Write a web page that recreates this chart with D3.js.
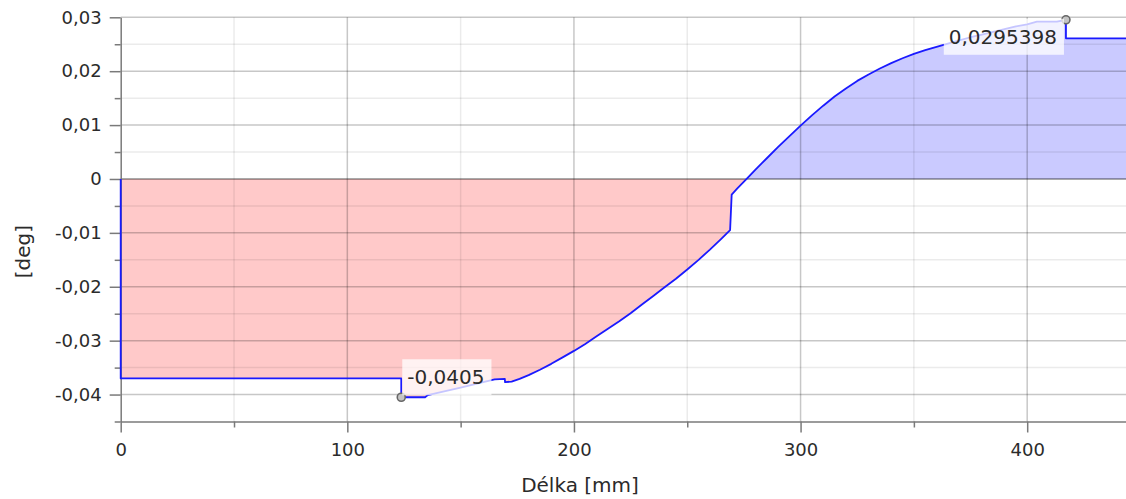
<!DOCTYPE html>
<html>
<head>
<meta charset="utf-8">
<script src="https://cdn.jsdelivr.net/npm/d3@7"></script>
<style>
  body { margin: 0; background: #fff; }
  svg { display: block; }
  text { font-family: "DejaVu Sans", sans-serif; fill: #2b2b2b; }
</style>
</head>
<body>
<svg id="chart" width="1126" height="499"></svg>
<script>
// Rotation along the member length
const lengthMm = [0, 0, 123.8, 123.8, 134.3, 135.5, 150, 165.0, 169.5, 169.6, 172.5, 176,
  180, 185, 190, 195, 200, 205, 210, 215, 220, 225, 230, 235, 240, 245, 250, 255, 260, 265,
  268.9, 269.6, 272, 276.2, 280, 285, 290, 295, 300, 305, 310, 315, 320, 325, 330, 335, 340,
  345, 350, 355, 360, 365, 370, 375, 380, 385, 390, 395, 400, 404.3, 413.1, 417.1, 417.1, 443.6];
const rotationDeg = [0, -0.0370, -0.0370, -0.0405, -0.0405, -0.0401, -0.0387, -0.0372, -0.0371,
  -0.0377, -0.0376, -0.0371, -0.0364, -0.0354, -0.0343, -0.0331, -0.0319, -0.0306, -0.0292,
  -0.0278, -0.0264, -0.0249, -0.0233, -0.0217, -0.0201, -0.0185, -0.0168, -0.0150, -0.0131,
  -0.0111, -0.0095, -0.0029, -0.0018, 0.0000, 0.0017, 0.0038, 0.0059, 0.0079, 0.0099, 0.0118,
  0.0136, 0.0153, 0.0168, 0.0182, 0.0194, 0.0205, 0.0215, 0.0224, 0.0232, 0.0239, 0.0245,
  0.0251, 0.0257, 0.0263, 0.0268, 0.0273, 0.0278, 0.0283, 0.0287, 0.0292, 0.0292, 0.0295398,
  0.0261, 0.0261];

// Extreme values marked on the curve
const extremeMm = [123.8, 417.1];
const extremeDeg = [-0.0405, 0.0295398];
const extremeLabels = ["-0,0405", "0,0295398"];

// Axis ticks
const xMajorTicks = [0, 100, 200, 300, 400];
const xMinorTicks = [50, 150, 250, 350];
const yMajorTicks = [0.03, 0.02, 0.01, 0, -0.01, -0.02, -0.03, -0.04];
const yMinorTicks = [0.025, 0.015, 0.005, -0.005, -0.015, -0.025, -0.035, -0.045];

const xTitle = "Délka [mm]";
const yTitle = "[deg]";

const svg = d3.select("#chart");
const plotL = 120.7, plotR = 1126, plotT = 17.3, plotB = 421.5;

const x = d3.scaleLinear().domain([0, 443.6]).range([plotL, plotR]);
const y = d3.scaleLinear().domain([-0.045, 0.03]).range([plotB, plotT]);

const locale = d3.formatLocale({ decimal: ",", thousands: " ", grouping: [3], currency: ["", ""], minus: "-" });
const fmt2 = locale.format(".2f");
const yFmt = d => (d === 0 ? "0" : fmt2(d));

const pts = lengthMm.map((v, i) => [v, rotationDeg[i]]);

// Clip regions above and below zero
const defs = svg.append("defs");
defs.append("clipPath").attr("id", "neg").append("rect")
  .attr("x", plotL).attr("y", y(0)).attr("width", plotR - plotL).attr("height", plotB - y(0));
defs.append("clipPath").attr("id", "pos").append("rect")
  .attr("x", plotL).attr("y", plotT - 10).attr("width", plotR - plotL).attr("height", y(0) - plotT + 10);

const area = d3.area().x(d => x(d[0])).y0(y(0)).y1(d => y(d[1]));
svg.append("path").datum(pts).attr("d", area).attr("fill", "#ffc9c9").attr("clip-path", "url(#neg)");
svg.append("path").datum(pts).attr("d", area).attr("fill", "#cacaff").attr("clip-path", "url(#pos)");

// Grid
const grid = svg.append("g");
grid.selectAll(".vminor").data(xMinorTicks).join("line")
  .attr("x1", d => x(d)).attr("x2", d => x(d)).attr("y1", plotT).attr("y2", plotB)
  .attr("stroke", "rgba(0,0,0,0.08)").attr("stroke-width", 1.5);
grid.selectAll(".hminor").data(yMinorTicks.filter(d => d > -0.045)).join("line")
  .attr("x1", plotL).attr("x2", plotR).attr("y1", d => y(d)).attr("y2", d => y(d))
  .attr("stroke", "rgba(0,0,0,0.08)").attr("stroke-width", 1.5);
grid.selectAll(".vmajor").data(xMajorTicks.filter(d => d > 0)).join("line")
  .attr("x1", d => x(d)).attr("x2", d => x(d)).attr("y1", plotT).attr("y2", plotB)
  .attr("stroke", "rgba(0,0,0,0.22)").attr("stroke-width", 1.5);
grid.selectAll(".hmajor").data(yMajorTicks.filter(d => d !== 0)).join("line")
  .attr("x1", plotL).attr("x2", plotR).attr("y1", d => y(d)).attr("y2", d => y(d))
  .attr("stroke", "rgba(0,0,0,0.22)").attr("stroke-width", 1.5);
grid.append("line").attr("x1", plotL).attr("x2", plotR).attr("y1", y(0)).attr("y2", y(0))
  .attr("stroke", "rgba(0,0,0,0.45)").attr("stroke-width", 1.5);

// Axes
const axisColor = "#7a7a7a";
function styleAxis(g) {
  g.selectAll(".domain").attr("stroke", axisColor).attr("stroke-width", 1.5);
  g.selectAll(".tick line").attr("stroke", axisColor).attr("stroke-width", 1.5);
  g.selectAll(".tick text").attr("font-size", 18).attr("font-family", "DejaVu Sans").attr("fill", "#2b2b2b");
}
svg.append("g").attr("transform", `translate(0,${plotB})`)
  .call(d3.axisBottom(x).tickValues(xMinorTicks).tickSize(6).tickFormat(""))
  .call(g => g.select(".domain").remove()).call(styleAxis);
svg.append("g").attr("transform", `translate(${plotL},0)`)
  .call(d3.axisLeft(y).tickValues(yMinorTicks).tickSize(6).tickFormat(""))
  .call(g => g.select(".domain").remove()).call(styleAxis);
svg.append("g").attr("transform", `translate(0,${plotB})`)
  .call(d3.axisBottom(x).tickValues(xMajorTicks).tickSize(11).tickSizeOuter(0).tickPadding(11).tickFormat(d => String(d)))
  .call(styleAxis);
svg.append("g").attr("transform", `translate(${plotL},0)`)
  .call(d3.axisLeft(y).tickValues(yMajorTicks).tickSize(11).tickSizeOuter(0).tickPadding(8).tickFormat(yFmt))
  .call(styleAxis);

// Curve
svg.append("path").datum(pts)
  .attr("d", d3.line().x(d => x(d[0])).y(d => y(d[1])))
  .attr("fill", "none").attr("stroke", "#1a1aff").attr("stroke-width", 1.8)
  .attr("stroke-linejoin", "round");

// Extreme markers and labels
const ext = extremeMm.map((v, i) => ({ mm: v, deg: extremeDeg[i], label: extremeLabels[i], low: extremeDeg[i] < 0 }));
ext.forEach(e => {
  const cx = x(e.mm), cy = y(e.deg);
  svg.append("circle").attr("cx", cx).attr("cy", cy).attr("r", 4)
    .attr("fill", "#c4c4c4").attr("stroke", "#666").attr("stroke-width", 1.6);
  const g = svg.append("g");
  const box = g.append("rect").attr("fill", "rgba(255,255,255,0.75)");
  const t = g.append("text").attr("font-size", 20).attr("dominant-baseline", "central").text(e.label);
  if (e.low) {
    t.attr("x", cx + 6).attr("y", cy - 20).attr("text-anchor", "start");
  } else {
    t.attr("x", cx - 9).attr("y", cy + 17).attr("text-anchor", "end");
  }
  const bb = t.node().getBBox();
  box.attr("x", bb.x - 5).attr("y", bb.y - 6).attr("width", bb.width + 12).attr("height", bb.height + 12);
});

// Axis titles
svg.append("text").attr("x", 580).attr("y", 492).attr("text-anchor", "middle")
  .attr("font-size", 20).text(xTitle);
svg.append("text").attr("transform", "translate(22.7,251.7) rotate(-90)")
  .attr("text-anchor", "middle").attr("dominant-baseline", "central")
  .attr("font-size", 20).text(yTitle);
</script>
</body>
</html>
